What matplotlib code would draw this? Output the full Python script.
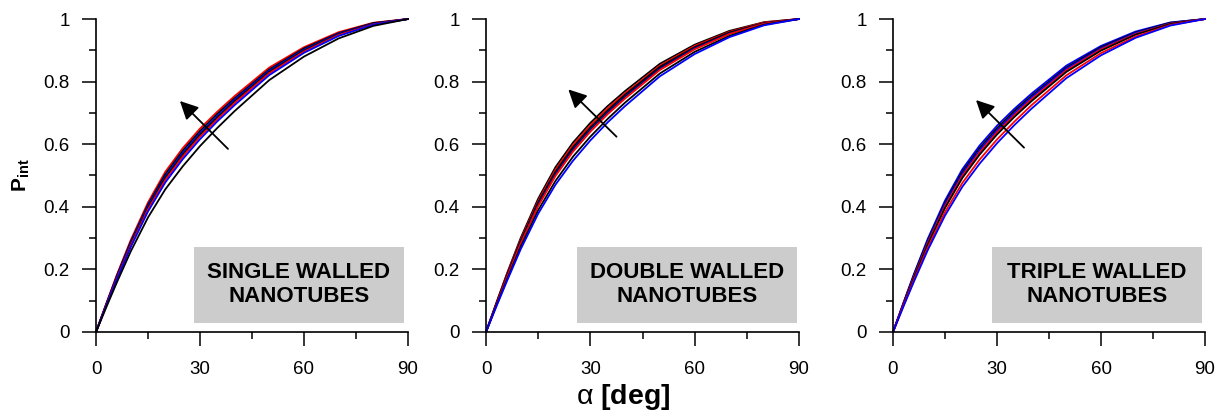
import matplotlib

matplotlib.use("Agg")
import matplotlib.pyplot as plt
from matplotlib.patches import Rectangle
from matplotlib.ticker import MultipleLocator

plt.rcParams["font.family"] = ["Liberation Sans", "DejaVu Sans"]
plt.rcParams["mathtext.fontset"] = "custom"
plt.rcParams["mathtext.rm"] = "Liberation Sans"
plt.rcParams["mathtext.bf"] = "Liberation Sans:bold"

# incidence angle grid (deg)
alpha = [0, 3, 6, 10, 15, 20, 25, 30, 35, 40, 50, 60, 70, 80, 90]

# single walled nanotubes, top of bundle first
sw_curves = [
    [0, .092, .182, .293, .414, .512, .587, .650, .704, .754, .845, .910, .958, .988, 1.0],
    [0, .090, .179, .288, .407, .504, .579, .642, .697, .747, .839, .906, .955, .987, 1.0],
    [0, .089, .176, .284, .402, .497, .572, .635, .690, .742, .835, .902, .953, .985, 1.0],
    [0, .088, .173, .280, .397, .492, .566, .630, .685, .737, .831, .899, .951, .984, 1.0],
    [0, .086, .171, .276, .392, .486, .560, .624, .680, .732, .827, .896, .949, .983, 1.0],
    [0, .085, .168, .271, .385, .478, .552, .616, .673, .725, .821, .892, .946, .982, 1.0],
    [0, .080, .158, .257, .366, .456, .529, .594, .652, .706, .805, .880, .938, .978, 1.0],
]
sw_colors = ["red", "black", "blue", "black", "red", "blue", "black"]

# double walled nanotubes
dw_curves = [
    [0, .094, .186, .301, .426, .527, .605, .668, .722, .770, .857, .918, .962, .990, 1.0],
    [0, .092, .183, .296, .419, .519, .597, .660, .715, .763, .851, .914, .959, .989, 1.0],
    [0, .091, .180, .292, .414, .512, .590, .653, .708, .758, .847, .910, .957, .987, 1.0],
    [0, .089, .177, .287, .408, .506, .583, .647, .702, .752, .842, .907, .954, .986, 1.0],
    [0, .088, .174, .283, .402, .499, .576, .640, .696, .746, .837, .903, .952, .985, 1.0],
    [0, .085, .167, .273, .389, .483, .560, .624, .681, .733, .826, .895, .946, .982, 1.0],
    [0, .082, .162, .265, .378, .471, .547, .612, .670, .722, .817, .888, .942, .980, 1.0],
]
dw_colors = ["black", "red", "black", "navy", "red", "black", "blue"]

# triple walled nanotubes
tw_curves = [
    [0, .093, .184, .297, .420, .520, .596, .659, .713, .762, .851, .914, .960, .989, 1.0],
    [0, .091, .181, .292, .413, .512, .588, .651, .706, .755, .845, .910, .957, .988, 1.0],
    [0, .090, .178, .288, .408, .505, .581, .644, .699, .750, .841, .906, .955, .986, 1.0],
    [0, .088, .175, .283, .402, .499, .574, .638, .693, .744, .836, .903, .952, .985, 1.0],
    [0, .087, .172, .279, .396, .492, .567, .631, .687, .738, .831, .899, .950, .984, 1.0],
    [0, .084, .165, .269, .383, .476, .551, .615, .672, .725, .820, .891, .944, .981, 1.0],
    [0, .081, .160, .261, .372, .464, .538, .603, .661, .714, .811, .884, .940, .979, 1.0],
]
tw_colors = ["blue", "black", "blue", "red", "black", "red", "blue"]

titles = ["SINGLE WALLED\nNANOTUBES", "DOUBLE WALLED\nNANOTUBES", "TRIPLE WALLED\nNANOTUBES"]
x_ticks = [0, 30, 60, 90]
y_ticks = [0, 0.2, 0.4, 0.6, 0.8, 1.0]
y_ticklabels = ["0", "0.2", "0.4", "0.6", "0.8", "1"]

fig = plt.figure(figsize=(12.17, 4.12), dpi=100)
W, H = 1217, 412
lefts = [96, 486, 893]
widths = [312, 313, 312]
# label box (axes fraction) and arrow (tail, head) for each panel
boxes = [(0.314, 0.673), (0.291, 0.703), (0.317, 0.673)]
arrows = [((0.423, 0.585), (0.269, 0.738)),
          ((0.417, 0.624), (0.263, 0.775)),
          ((0.420, 0.589), (0.266, 0.741))]

panels = [(sw_curves, sw_colors), (dw_curves, dw_colors), (tw_curves, tw_colors)]
for i, (curves, colors) in enumerate(panels):
    ax = fig.add_axes([lefts[i] / W, (H - 332) / H, widths[i] / W, 313 / H])
    for ys, c in zip(curves, colors):
        ax.plot(alpha, ys, color=c, lw=1.3, clip_on=False, solid_joinstyle="round")
    ax.set_xlim(0, 90)
    ax.set_ylim(0, 1)
    ax.set_xticks(x_ticks)
    ax.set_yticks(y_ticks)
    ax.set_yticklabels(y_ticklabels)
    ax.xaxis.set_minor_locator(MultipleLocator(15))
    ax.yaxis.set_minor_locator(MultipleLocator(0.1))
    for s in ["top", "right"]:
        ax.spines[s].set_visible(False)
    for s in ["left", "bottom"]:
        ax.spines[s].set_linewidth(1.2)
    ax.tick_params(which="major", direction="out", length=10, width=1.1, labelsize=13.5)
    ax.tick_params(which="minor", direction="out", length=5, width=1.1)
    ax.tick_params(axis="x", which="major", pad=11)
    ax.tick_params(axis="y", which="major", pad=9)

    bx, bw = boxes[i]
    ax.add_patch(Rectangle((bx, 0.029), bw, 0.243, transform=ax.transAxes,
                           facecolor="#cccccc", edgecolor="none", zorder=3))
    ax.text(bx + bw / 2, 0.029 + 0.243 / 2, titles[i], transform=ax.transAxes,
            ha="center", va="center", fontsize=16, fontweight="bold",
            linespacing=1.2, zorder=4)

    tail, head = arrows[i]
    ax.annotate("", xy=head, xytext=tail, xycoords="axes fraction",
                textcoords="axes fraction",
                arrowprops=dict(arrowstyle="-|>,head_length=1.1,head_width=0.55",
                                color="black", lw=1.3, shrinkA=0, shrinkB=0),
                zorder=5)

    if i == 0:
        ax.set_ylabel(r"$\mathbf{P_{int}}$", fontsize=15, labelpad=8)

fig.text(623 / W, 0.037, r"α $\mathbf{[deg]}$", ha="center", va="center", fontsize=20.5)

fig.savefig("out.png", dpi=100)
